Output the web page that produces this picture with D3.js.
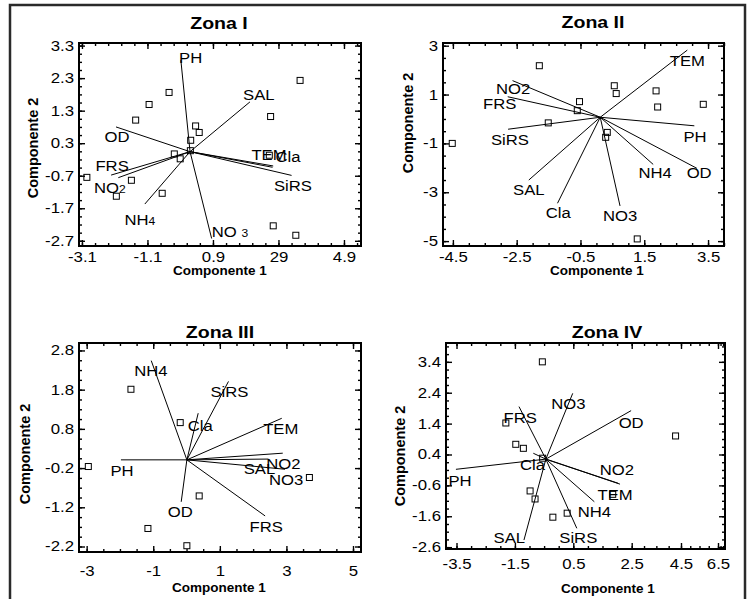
<!DOCTYPE html>
<html lang="es">
<head>
<meta charset="utf-8">
<title>Biplots por zona</title>
<script src="https://d3js.org/d3.v7.min.js"></script>
<style>
  body { margin: 0; background: #fff; }
  svg text { font-family: "Liberation Sans", Arial, sans-serif; }
</style>
</head>
<body>
<div id="chart"></div>
<script>
// ---------- data ----------
// Zona I
var z1Names  = ["PH", "SAL", "OD", "TEM", "Cla", "FRS", "SiRS", "NO2", "NH4", "NO 3"];
var z1VecX   = [-0.08, 2.03, -2.06, 2.74, 2.72, -2.21, 3.30, -1.99, -1.18, 0.86];
var z1VecY   = [2.85, 1.57, 0.80, -0.40, -0.44, -0.68, -0.69, -0.76, -1.57, -2.63];
var z1LabX   = [0.22, 2.30, -2.03, 2.61, 3.19, -2.18, 3.34, -2.25, -1.33, 1.42];
var z1LabY   = [2.92, 1.78, 0.49, -0.07, -0.13, -0.40, -1.02, -1.08, -2.06, -2.43];
var z1PtX    = [3.56, 2.66, -0.44, -1.05, -1.46, 0.37, 0.48, 0.22, -0.28, -0.10, 0.21, -2.95, -1.59, -2.05, -0.65, 2.74, 3.43, 2.62];
var z1PtY    = [2.23, 1.12, 1.86, 1.49, 1.01, 0.83, 0.63, 0.39, -0.03, -0.18, 0.07, -0.75, -0.84, -1.33, -1.24, -2.24, -2.53, -0.07];
var z1Origin = [0.20, 0.04];
var z1XTicks = [-3.1, -1.1, 0.9, 2.9, 4.9];
var z1XText  = ["-3.1", "-1.1", "0.9", "29", "4.9"];
var z1YTicks = [3.3, 2.3, 1.3, 0.3, -0.7, -1.7, -2.7];

// Zona II
var z2Names  = ["TEM", "NO2", "FRS", "SiRS", "PH", "OD", "NH4", "NO3", "Cla", "SAL"];
var z2VecX   = [2.85, -2.63, -2.78, -2.77, 3.07, 3.15, 1.78, 0.74, -1.22, -2.12];
var z2VecY   = [2.82, 1.57, 0.91, -0.42, -0.28, -2.02, -1.86, -3.56, -3.45, -2.50];
var z2LabX   = [2.85, -2.61, -3.03, -2.71, 3.09, 3.22, 1.84, 0.74, -1.20, -2.12];
var z2LabY   = [2.37, 1.22, 0.61, -0.86, -0.73, -2.20, -2.22, -3.97, -3.84, -2.88];
var z2PtX    = [-4.52, -1.79, -0.53, -0.60, -1.51, 0.56, 0.62, 1.87, 1.92, 3.35, 0.34, 0.29, 1.28];
var z2PtY    = [-1.00, 2.18, 0.71, 0.34, -0.16, 1.36, 1.04, 1.15, 0.49, 0.60, -0.55, -0.75, -4.91];
var z2Origin = [0.12, 0.07];
var z2XTicks = [-4.5, -2.5, -0.5, 1.5, 3.5];
var z2YTicks = [3, 1, -1, -3, -5];

// Zona III
var z3Names  = ["NH4", "SiRS", "Cla", "TEM", "NO2", "SAL", "NO3", "PH", "OD", "FRS"];
var z3VecX   = [-1.06, 1.26, 0.35, 2.86, 2.89, 2.46, 2.96, -1.97, -0.16, 2.36];
var z3VecY   = [2.54, 2.01, 1.20, 1.07, 0.18, 0.03, -0.23, 0.01, -1.06, -1.42];
var z3LabX   = [-1.07, 1.29, 0.41, 2.83, 2.91, 2.19, 2.99, -1.94, -0.19, 2.39];
var z3LabY   = [2.28, 1.74, 0.88, 0.79, -0.08, -0.22, -0.50, -0.27, -1.31, -1.70];
var z3PtX    = [-1.67, -0.19, -2.95, 3.69, 0.38, -1.16, 0.01];
var z3PtY    = [1.81, 0.96, -0.16, -0.44, -0.91, -1.74, -2.18];
var z3Origin = [0.01, 0.01];
var z3XTicks = [-3, -1, 1, 3, 5];
var z3YTicks = [2.8, 1.8, 0.8, -0.2, -1.2, -2.2];

// Zona IV
var z4Names  = ["PH", "FRS", "NO3", "OD", "NO2", "TEM", "Cla", "NH4", "SiRS", "SAL"];
var z4VecX   = [-3.52, -1.36, 0.48, 2.48, 2.10, 2.03, -0.87, 1.22, 0.62, -1.19];
var z4VecY   = [-0.08, 1.95, 2.38, 1.82, -0.56, -0.53, 0.44, -1.13, -1.99, -2.37];
var z4LabX   = [-3.38, -1.32, 0.33, 2.48, 1.99, 1.93, -0.90, 1.22, 0.67, -1.69];
var z4LabY   = [-0.46, 1.59, 2.03, 1.44, -0.10, -0.89, 0.06, -1.47, -2.29, -2.29];
var z4PtX    = [-0.56, 4.28, -1.81, -1.47, -1.21, -0.55, -0.98, -0.81, -0.20, 0.29, 1.85];
var z4PtY    = [3.40, 1.00, 1.42, 0.73, 0.60, 0.28, -0.78, -1.04, -1.63, -1.50, -0.89];
var z4Origin = [-0.44, 0.25];
var z4XTicks = [-3.5, -1.5, 0.5, 2.5, 4.5, 6.5];
var z4YTicks = [3.4, 2.4, 1.4, 0.4, -0.6, -1.6, -2.6];

// ---------- layout ----------
// the printed x axis of Zona IV is unevenly spaced on its right end, hence a piecewise scale
var panels = [
  {title: "Zona I", names: z1Names, vx: z1VecX, vy: z1VecY, lx: z1LabX, ly: z1LabY, px: z1PtX, py: z1PtY,
   origin: z1Origin, xTicks: z1XTicks, xText: z1XText, yTicks: z1YTicks, xMinor: 0.4, yMinor: 0.25,
   xDomain: [-3.19, 5.42], yDomain: [-2.86, 3.38], box: [79, 43, 361, 246],
   titlePos: [219, 28.5], xlabPos: [220, 275], ylabPos: [38, 148], xPad: 6, subs: true},
  {title: "Zona II", names: z2Names, vx: z2VecX, vy: z2VecY, lx: z2LabX, ly: z2LabY, px: z2PtX, py: z2PtY,
   origin: z2Origin, xTicks: z2XTicks, yTicks: z2YTicks, xMinor: 0.5, yMinor: 0.5,
   xDomain: [-4.81, 4.00], yDomain: [-5.20, 3.11], box: [443, 43, 724, 246],
   titlePos: [593, 27.5], xlabPos: [597, 275], ylabPos: [413, 123], xPad: 6},
  {title: "Zona III", names: z3Names, vx: z3VecX, vy: z3VecY, lx: z3LabX, ly: z3LabY, px: z3PtX, py: z3PtY,
   origin: z3Origin, xTicks: z3XTicks, yTicks: z3YTicks, xMinor: 0.5, yMinor: 0.25,
   xDomain: [-3.23, 5.24], yDomain: [-2.34, 2.99], box: [79, 343, 361, 552],
   titlePos: [220, 337.5], xlabPos: [219, 592], ylabPos: [30, 454], xPad: 14},
  {title: "Zona IV", names: z4Names, vx: z4VecX, vy: z4VecY, lx: z4LabX, ly: z4LabY, px: z4PtX, py: z4PtY,
   origin: z4Origin, xTicks: z4XTicks, yTicks: z4YTicks, xMinor: 0.5, yMinor: 0.25,
   xDomain: [-3.86, 2.5, 4.5, 6.5, 7.88], xRange: [446, 631.7, 681, 718, 725], yDomain: [-2.66, 4.01], box: [446, 343, 725, 549],
   titlePos: [607, 337.5], xlabPos: [608, 593], ylabPos: [405, 456], xPad: 10}
];

// the source figure is widened horizontally, so text is stretched a bit
var tickFont = 14, tickStretch = 1.2;
var labFont = 14.5, labStretch = 1.15;
var titleFont = 17, titleStretch = 1.15;

var W = 751, H = 599;
var svg = d3.select("#chart").append("svg")
    .attr("width", W)
    .attr("height", H);

// outer frame of the figure
svg.append("rect")
    .attr("x", 10).attr("y", 5)
    .attr("width", 735).attr("height", 620)
    .attr("fill", "none")
    .attr("stroke", "#2a2a2a")
    .attr("stroke-width", 2.5);

panels.forEach(drawPanel);

function minorTicks(start, step, domain) {
    var lo = d3.min(domain), hi = d3.max(domain);
    var k0 = Math.ceil((lo - start) / step - 1e-9);
    var k1 = Math.floor((hi - start) / step + 1e-9);
    return d3.range(k0, k1 + 1).map(function(k) { return start + k * step; });
}

function styleAxis(g) {
    g.select(".domain").remove();
    g.selectAll("line").attr("stroke", "#000").attr("stroke-width", 1.4);
    g.attr("font-family", "'Liberation Sans', Arial, sans-serif").attr("font-size", tickFont);
    g.selectAll("text").attr("fill", "#000");
}

function drawPanel(p) {
    var b = p.box;
    var x = d3.scaleLinear().domain(p.xDomain).range(p.xRange || [b[0], b[2]]);
    var y = d3.scaleLinear().domain(p.yDomain).range([b[3], b[1]]);
    var g = svg.append("g");

    var xMin = minorTicks(p.xTicks[0], p.xMinor, p.xDomain);
    var yMin = minorTicks(p.yTicks[0], p.yMinor, p.yDomain);

    // bottom axis, labelled
    g.append("g").attr("transform", "translate(0," + b[3] + ")")
        .call(d3.axisBottom(x).tickValues(p.xTicks).tickSizeInner(-6).tickSizeOuter(0)
            .tickPadding(p.xPad)
            .tickFormat(function(d, i) { return p.xText ? p.xText[i] : String(d); }))
        .call(styleAxis)
        .selectAll("text").attr("transform", "scale(" + tickStretch + ",1)");
    g.append("g").attr("transform", "translate(0," + b[3] + ")")
        .call(d3.axisBottom(x).tickValues(xMin).tickSizeInner(-3).tickSizeOuter(0).tickFormat(""))
        .call(styleAxis);
    // top axis, ticks only
    g.append("g").attr("transform", "translate(0," + b[1] + ")")
        .call(d3.axisTop(x).tickValues(p.xTicks).tickSizeInner(-6).tickSizeOuter(0).tickFormat(""))
        .call(styleAxis);
    g.append("g").attr("transform", "translate(0," + b[1] + ")")
        .call(d3.axisTop(x).tickValues(xMin).tickSizeInner(-3).tickSizeOuter(0).tickFormat(""))
        .call(styleAxis);
    // left axis, labelled
    g.append("g").attr("transform", "translate(" + b[0] + ",0)")
        .call(d3.axisLeft(y).tickValues(p.yTicks).tickSizeInner(-6).tickSizeOuter(0)
            .tickPadding(5).tickFormat(function(d) { return String(d); }))
        .call(styleAxis)
        .selectAll("text")
        .attr("x", -5 / tickStretch)
        .attr("transform", "scale(" + tickStretch + ",1)");
    g.append("g").attr("transform", "translate(" + b[0] + ",0)")
        .call(d3.axisLeft(y).tickValues(yMin).tickSizeInner(-3).tickSizeOuter(0).tickFormat(""))
        .call(styleAxis);
    // right axis, ticks only
    g.append("g").attr("transform", "translate(" + b[2] + ",0)")
        .call(d3.axisRight(y).tickValues(p.yTicks).tickSizeInner(-6).tickSizeOuter(0).tickFormat(""))
        .call(styleAxis);
    g.append("g").attr("transform", "translate(" + b[2] + ",0)")
        .call(d3.axisRight(y).tickValues(yMin).tickSizeInner(-3).tickSizeOuter(0).tickFormat(""))
        .call(styleAxis);

    // plot frame
    g.append("rect")
        .attr("x", b[0]).attr("y", b[1])
        .attr("width", b[2] - b[0]).attr("height", b[3] - b[1])
        .attr("fill", "none").attr("stroke", "#000").attr("stroke-width", 2);

    // variable vectors
    g.selectAll("line.vec").data(p.names).enter().append("line")
        .attr("class", "vec")
        .attr("x1", x(p.origin[0])).attr("y1", y(p.origin[1]))
        .attr("x2", function(d, i) { return x(p.vx[i]); })
        .attr("y2", function(d, i) { return y(p.vy[i]); })
        .attr("stroke", "#000").attr("stroke-width", 1);

    // observations
    g.selectAll("rect.pt").data(p.px).enter().append("rect")
        .attr("class", "pt")
        .attr("x", function(d) { return x(d) - 3; })
        .attr("y", function(d, i) { return y(p.py[i]) - 3; })
        .attr("width", 6).attr("height", 6)
        .attr("fill", "none").attr("stroke", "#000").attr("stroke-width", 1);

    // vector labels
    var lab = g.selectAll("text.lab").data(p.names).enter().append("text")
        .attr("class", "lab")
        .attr("transform", function(d, i) {
            return "translate(" + x(p.lx[i]) + "," + (y(p.ly[i]) + 5.2) + ") scale(" + labStretch + ",1)";
        })
        .attr("text-anchor", "middle")
        .attr("font-size", labFont);
    lab.each(function(d) {
        var t = d3.select(this);
        var m = p.subs ? d.match(/^(\D+?)(\d)$/) : null;
        if (m) {
            t.append("tspan").text(m[1]);
            t.append("tspan").attr("font-size", 10.5).text(m[2]);
        } else {
            t.text(d);
        }
    });

    // titles
    g.append("text")
        .attr("transform", "translate(" + p.titlePos[0] + "," + p.titlePos[1] + ") scale(" + titleStretch + ",1)")
        .attr("text-anchor", "middle")
        .attr("font-size", titleFont).attr("font-weight", "bold")
        .text(p.title);
    g.append("text")
        .attr("x", p.xlabPos[0]).attr("y", p.xlabPos[1])
        .attr("text-anchor", "middle")
        .attr("font-size", 13.5).attr("font-weight", "bold")
        .text("Componente 1");
    g.append("text")
        .attr("transform", "translate(" + p.ylabPos[0] + "," + p.ylabPos[1] + ") rotate(-90)")
        .attr("text-anchor", "middle")
        .attr("font-size", 14.5).attr("font-weight", "bold")
        .text("Componente 2");
}
</script>
</body>
</html>
